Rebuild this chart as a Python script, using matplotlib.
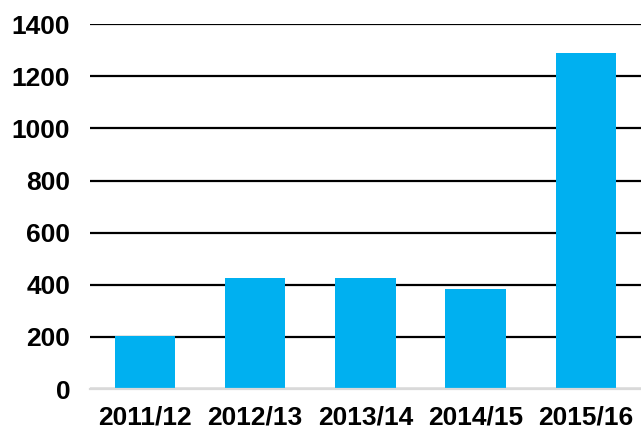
import matplotlib.pyplot as plt

seasons = ['2011/12', '2012/13', '2013/14', '2014/15', '2015/16']
values = [205, 425, 425, 385, 1290]
yticks = [0, 200, 400, 600, 800, 1000, 1200, 1400]

plt.rcParams['font.family'] = ['Liberation Sans', 'DejaVu Sans']

fig = plt.figure(figsize=(6.41, 4.30), dpi=100)
ax = fig.add_axes([0.14, 0.095, 0.86, 0.849])

x = range(len(seasons))
ax.bar(x, values, width=0.55, color='#00B0F0', zorder=3)

ax.set_ylim(0, 1400)
ax.set_xlim(-0.5, len(seasons) - 0.5)
ax.set_yticks(yticks)
ax.set_xticks(list(x))
ax.set_xticklabels(seasons)

# black horizontal gridlines, grey baseline
ax.grid(axis='y', color='black', linewidth=1.6, zorder=0)
for s in ['top', 'right', 'left']:
    ax.spines[s].set_visible(False)
ax.spines['bottom'].set_color('#D9D9D9')
ax.spines['bottom'].set_linewidth(1.6)
ax.spines['bottom'].set_zorder(4)

ax.tick_params(axis='both', length=0, labelsize=19)
ax.tick_params(axis='y', pad=14)
ax.tick_params(axis='x', pad=12)
for lab in ax.get_xticklabels() + ax.get_yticklabels():
    lab.set_fontweight('bold')

plt.savefig('out.png', dpi=100)
